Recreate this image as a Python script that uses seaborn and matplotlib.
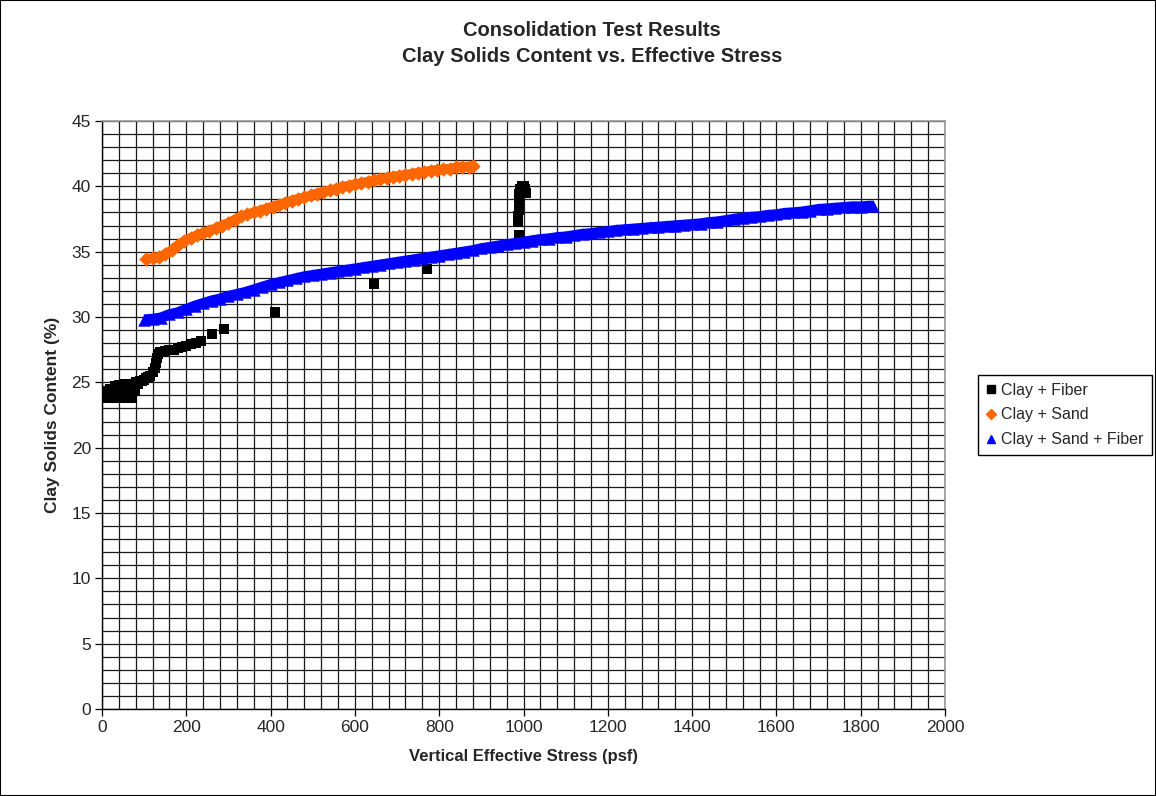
import numpy as np
import pandas as pd
import matplotlib
matplotlib.use("Agg")
import matplotlib.pyplot as plt
from matplotlib.lines import Line2D
from matplotlib.patches import Rectangle
import seaborn as sns

# ---- data -------------------------------------------------------------
fiber_x = [2, 5, 8, 10, 14, 18, 20, 24, 28, 30, 34, 38, 40, 44, 48, 50, 54, 58,
           60, 64, 68, 70, 74, 78, 80, 85, 90, 95, 100, 105, 110, 115, 120, 125,
           128, 130, 134, 138, 145, 150, 160, 170, 180, 190, 200, 210, 222, 235,
           260, 290, 410, 645, 770,
           990, 988, 988, 989, 989, 990, 990, 992, 996, 1000, 1004, 1005]
fiber_y = [23.8, 24.1, 23.9, 24.3, 23.8, 24.0, 24.5, 23.9, 24.2, 24.7, 23.8, 24.3,
           24.8, 24.0, 23.8, 24.5, 24.9, 24.2, 23.9, 24.8, 24.5, 23.8, 24.9, 24.3,
           25.0, 24.9, 25.1, 25.1, 25.2, 25.3, 25.4, 25.5, 25.8, 26.1, 26.5, 26.9,
           27.2, 27.3, 27.35, 27.4, 27.45, 27.5, 27.6, 27.7, 27.8, 27.9, 28.0,
           28.2, 28.7, 29.1, 30.35, 32.5, 33.65,
           36.3, 37.3, 37.7, 38.2, 38.6, 39.0, 39.4, 39.8, 40.0, 40.0, 39.8, 39.5]

sand_x = [105, 120, 135, 150, 165, 180, 195, 210, 225, 240, 255, 270, 285, 300,
          315, 330, 345, 360, 375, 390, 405, 420, 435, 450, 465, 480, 495, 510,
          525, 540, 555, 570, 585, 600, 615, 630, 645, 660, 675, 690, 705, 720,
          735, 750, 765, 780, 795, 810, 825, 840, 855, 870, 880]
sand_y = [34.45, 34.5, 34.6, 34.8, 35.1, 35.5, 35.8, 36.05, 36.25, 36.45, 36.6,
          36.8, 37.0, 37.2, 37.45, 37.7, 37.85, 38.0, 38.15, 38.3, 38.45, 38.6,
          38.75, 38.9, 39.05, 39.15, 39.3, 39.45, 39.55, 39.7, 39.8, 39.95, 40.05,
          40.15, 40.25, 40.35, 40.45, 40.55, 40.65, 40.75, 40.8, 40.9, 40.95,
          41.05, 41.1, 41.2, 41.25, 41.3, 41.35, 41.45, 41.5, 41.5, 41.55]

sand_fiber_x = [100, 120, 140, 160, 180, 200, 220, 240, 260, 280, 300, 320, 340,
                360, 380, 400, 420, 440, 460, 480, 500, 520, 540, 560, 580, 600,
                620, 640, 660, 680, 700, 720, 740, 760, 780, 800, 820, 840, 860,
                880, 900, 920, 940, 960, 980, 1000, 1020, 1040, 1060, 1080, 1100,
                1120, 1140, 1160, 1180, 1200, 1220, 1240, 1260, 1280, 1300, 1320,
                1340, 1360, 1380, 1400, 1420, 1440, 1460, 1480, 1500, 1520, 1540,
                1560, 1580, 1600, 1620, 1640, 1660, 1680, 1700, 1720, 1740, 1760,
                1780, 1800, 1820, 1830]
sand_fiber_y = [29.8, 29.85, 29.95, 30.2, 30.35, 30.6, 30.85, 31.05, 31.25, 31.4,
                31.6, 31.75, 31.9, 32.1, 32.3, 32.5, 32.65, 32.8, 32.95, 33.1,
                33.2, 33.3, 33.4, 33.5, 33.6, 33.7, 33.8, 33.9, 34.0, 34.1, 34.2,
                34.3, 34.4, 34.5, 34.6, 34.7, 34.8, 34.9, 35.0, 35.1, 35.25, 35.35,
                35.45, 35.55, 35.65, 35.75, 35.85, 35.95, 36.0, 36.1, 36.15, 36.25,
                36.35, 36.4, 36.5, 36.55, 36.65, 36.7, 36.75, 36.8, 36.85, 36.9,
                36.95, 37.0, 37.05, 37.1, 37.15, 37.25, 37.3, 37.4, 37.5, 37.6,
                37.65, 37.7, 37.8, 37.85, 37.95, 38.0, 38.05, 38.15, 38.25, 38.3,
                38.35, 38.4, 38.45, 38.45, 38.5, 38.5]

series_names = ["Clay + Fiber", "Clay + Sand", "Clay + Sand + Fiber"]
x_ticks = [0, 200, 400, 600, 800, 1000, 1200, 1400, 1600, 1800, 2000]
y_ticks = [0, 5, 10, 15, 20, 25, 30, 35, 40, 45]

# ---- styling ----------------------------------------------------------
sns.set_style("white")
plt.rcParams["font.family"] = ["Liberation Sans", "DejaVu Sans"]

colors = {"Clay + Fiber": "#000000", "Clay + Sand": "#FF6600",
          "Clay + Sand + Fiber": "#0000FF"}
markers = {"Clay + Fiber": "s", "Clay + Sand": "D", "Clay + Sand + Fiber": "^"}
sizes = {"Clay + Fiber": 42, "Clay + Sand": 55, "Clay + Sand + Fiber": 80}
# the densely logged readings merge into a continuous band of markers
band_width = {"Clay + Sand": 7.0, "Clay + Sand + Fiber": 7.5}

fig = plt.figure(figsize=(11.56, 7.96), dpi=100)
ax = fig.add_axes([102 / 1156, 1 - 709 / 796, 843 / 1156, 588 / 796])

frames = {
    "Clay + Fiber": pd.DataFrame({"x": fiber_x, "y": fiber_y}),
    "Clay + Sand": pd.DataFrame({"x": sand_x, "y": sand_y}),
    "Clay + Sand + Fiber": pd.DataFrame({"x": sand_fiber_x, "y": sand_fiber_y}),
}
for name in series_names:
    if name in band_width:
        sns.lineplot(data=frames[name], x="x", y="y", ax=ax, color=colors[name],
                     linewidth=band_width[name], sort=False, legend=False,
                     solid_capstyle="butt", solid_joinstyle="round", zorder=3)
    sns.scatterplot(data=frames[name], x="x", y="y", ax=ax, color=colors[name],
                    marker=markers[name], s=sizes[name], linewidth=0,
                    legend=False, zorder=3)

ax.set_xlim(0, 2000)
ax.set_ylim(0, 45)
ax.set_xticks(x_ticks)
ax.set_yticks(y_ticks)
ax.set_xticks(np.arange(0, 2001, 40), minor=True)
ax.set_yticks(np.arange(0, 46, 1), minor=True)
ax.grid(which="both", color="#1a1a1a", linewidth=0.9)
ax.set_axisbelow(True)
ax.tick_params(axis="both", which="major", direction="out", length=5,
               width=0.9, color="black", labelsize=12.5, pad=3, left=True,
               bottom=True)
ax.tick_params(axis="both", which="minor", length=0)
for side in ["left", "bottom"]:
    ax.spines[side].set_color("black")
    ax.spines[side].set_linewidth(1.0)
for side in ["top", "right"]:
    ax.spines[side].set_color("#999999")
    ax.spines[side].set_linewidth(1.2)

ax.set_xlabel("Vertical Effective Stress (psf)", fontsize=12, fontweight="bold",
              labelpad=10)
ax.set_ylabel("Clay Solids Content (%)", fontsize=12.5, fontweight="bold",
              labelpad=8)

fig.text(592 / 1156, 1 - 30 / 796, "Consolidation Test Results", ha="center",
         va="center", fontsize=14.5, fontweight="bold")
fig.text(592 / 1156, 1 - 56 / 796, "Clay Solids Content vs. Effective Stress",
         ha="center", va="center", fontsize=14.5, fontweight="bold")

handles = [Line2D([], [], linestyle="none", marker=markers[n], color=colors[n],
                  markersize=6 if n != "Clay + Sand" else 5)
           for n in series_names]
leg = fig.legend(handles, series_names, loc="center left",
                 bbox_to_anchor=(978 / 1156, 1 - 415 / 796), frameon=True,
                 fancybox=False, framealpha=1, edgecolor="black", fontsize=11.5,
                 handlelength=0.6, handletextpad=0.35, labelspacing=0.62,
                 borderpad=0.5, borderaxespad=0)
leg.get_frame().set_linewidth(1.0)

fig.patches.append(Rectangle((0, 0), 1, 1, transform=fig.transFigure,
                             fill=False, edgecolor="black", linewidth=1.5))

fig.savefig("out.png", dpi=100)
